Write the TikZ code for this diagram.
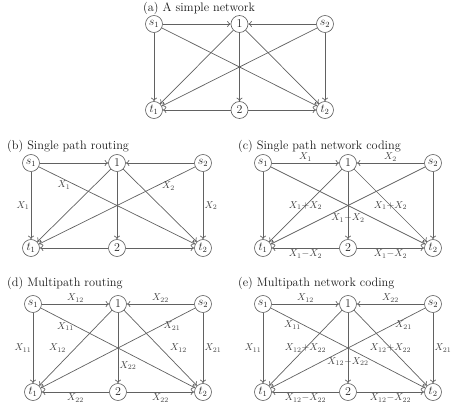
\documentclass[tikz,border=0pt]{standalone}
\usetikzlibrary{arrows.meta}
\tikzset{
  vtx/.style={circle, draw=black!62, line width=0.65pt, inner sep=0pt, minimum size=17pt,
    font=\fontsize{12}{14}\selectfont, text=black!85},
  arr/.style={draw=black!62, line width=0.7pt, -{To[length=3.5pt,width=6pt]}},
  lbl/.style={font=\fontsize{10}{12}\selectfont, text=black!75, inner sep=1.5pt},
  ttl/.style={anchor=west, font=\fontsize{12.3}{14}\selectfont, inner sep=0pt, text=black!90},
}
\newcommand\netw[5]{%
  \node[vtx] (#1s1) at (#2,#3) {$s_1$};
  \node[vtx] (#1n1) at (#2+#4,#3) {$1$};
  \node[vtx] (#1s2) at (#2+2*#4,#3) {$s_2$};
  \node[vtx] (#1t1) at (#2,#3+#5) {$t_1$};
  \node[vtx] (#1n2) at (#2+#4,#3+#5) {$2$};
  \node[vtx] (#1t2) at (#2+2*#4,#3+#5) {$t_2$};
  \draw[arr] (#1s1) -- (#1n1);
  \draw[arr] (#1s2) -- (#1n1);
  \draw[arr] (#1s1) -- (#1t1);
  \draw[arr] (#1s2) -- (#1t2);
  \draw[arr] (#1s1) -- (#1t2);
  \draw[arr] (#1s2) -- (#1t1);
  \draw[arr] (#1n1) -- (#1t1);
  \draw[arr] (#1n1) -- (#1n2);
  \draw[arr] (#1n1) -- (#1t2);
  \draw[arr] (#1n2) -- (#1t1);
  \draw[arr] (#1n2) -- (#1t2);
}
\begin{document}
\begin{tikzpicture}[x=1pt,y=-1pt]
\useasboundingbox (0,0) rectangle (474,416);
% (a)
\node[ttl] (ta) at (143,8) {(a) A simple network};
\netw{a}{154}{24}{85.5}{86}
% (b)
\node[ttl] (tb) at (7,146) {(b) Single path routing};
\netw{b}{31}{163}{86}{85}
\path (bs1) -- (bt1) node[lbl,midway,left] {$X_1$};
\path (bs1) -- (bt2) node[lbl,pos=0.16,below] {$X_1$};
\path (bs2) -- (bt1) node[lbl,pos=0.17,below] {$X_2$};
\path (bs2) -- (bt2) node[lbl,midway,right] {$X_2$};
% (c)
\node[ttl] (tc) at (238,146) {(c) Single path network coding};
\netw{c}{263}{163}{85}{85}
\path (cs1) -- (cn1) node[lbl,midway,above] {$X_1$};
\path (cs2) -- (cn1) node[lbl,midway,above] {$X_2$};
\path (cn1) -- (ct1) node[lbl,midway] {$X_1{+}X_2$};
\path (cn1) -- (ct2) node[lbl,midway] {$X_1{+}X_2$};
\path (cn1) -- (cn2) node[lbl,pos=0.69] {$X_1{-}X_2$};
\path (cn2) -- (ct1) node[lbl,midway,below] {$X_1{-}X_2$};
\path (cn2) -- (ct2) node[lbl,midway,below] {$X_1{-}X_2$};
% (d)
\node[ttl] (td) at (7,283) {(d) Multipath routing};
\netw{d}{33}{304}{85}{88}
\path (ds1) -- (dn1) node[lbl,midway,above] {$X_{12}$};
\path (ds2) -- (dn1) node[lbl,midway,above] {$X_{22}$};
\path (ds1) -- (dt2) node[lbl,pos=0.16,below] {$X_{11}$};
\path (ds2) -- (dt1) node[lbl,pos=0.15,below] {$X_{21}$};
\path (ds1) -- (dt1) node[lbl,midway,left] {$X_{11}$};
\path (ds2) -- (dt2) node[lbl,midway,right] {$X_{21}$};
\path (dn1) -- (dt1) node[lbl,midway,left=8pt] {$X_{12}$};
\path (dn1) -- (dt2) node[lbl,midway,right=8pt] {$X_{12}$};
\path (dn1) -- (dn2) node[lbl,pos=0.75,right] {$X_{22}$};
\path (dn2) -- (dt1) node[lbl,midway,below] {$X_{22}$};
\path (dn2) -- (dt2) node[lbl,midway,below] {$X_{22}$};
% (e)
\node[ttl] (te) at (238,283) {(e) Multipath network coding};
\netw{e}{263}{304}{85}{88}
\path (es1) -- (en1) node[lbl,midway,above] {$X_{12}$};
\path (es2) -- (en1) node[lbl,midway,above] {$X_{22}$};
\path (es1) -- (et2) node[lbl,pos=0.14,below] {$X_{11}$};
\path (es2) -- (et1) node[lbl,pos=0.14,below] {$X_{21}$};
\path (es1) -- (et1) node[lbl,midway,left] {$X_{11}$};
\path (es2) -- (et2) node[lbl,midway,right] {$X_{21}$};
\path (en1) -- (et1) node[lbl,midway] {$X_{12}{+}X_{22}$};
\path (en1) -- (et2) node[lbl,midway] {$X_{12}{+}X_{22}$};
\path (en1) -- (en2) node[lbl,pos=0.69] {$X_{12}{-}X_{22}$};
\path (en2) -- (et1) node[lbl,midway,below] {$X_{12}{-}X_{22}$};
\path (en2) -- (et2) node[lbl,midway,below] {$X_{12}{-}X_{22}$};
\end{tikzpicture}
\end{document}
